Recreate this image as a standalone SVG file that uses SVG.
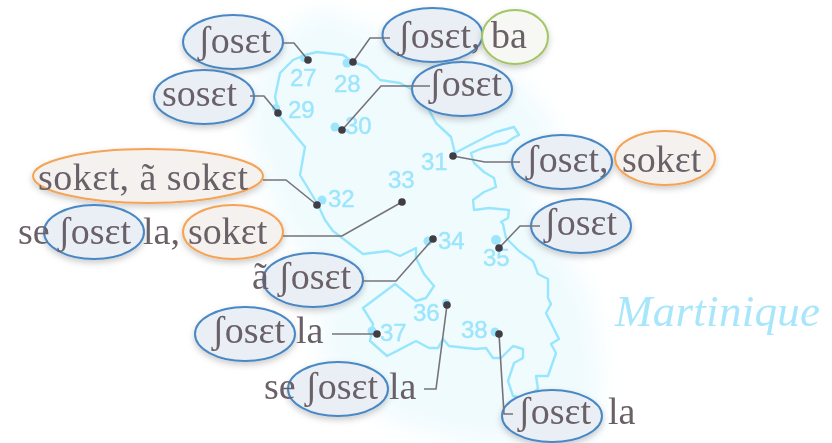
<svg xmlns="http://www.w3.org/2000/svg" width="832" height="443" viewBox="0 0 832 443">
<style>
.t{font-family:"Liberation Serif","DejaVu Serif",serif;font-size:38px;fill:#6b6068}
.n{font-family:"Liberation Sans",Arial,sans-serif;font-size:24px;fill:#9ce5fd;stroke:#9ce5fd;stroke-width:.4}
.b{fill:#e9eff5;stroke:#4a88c4;stroke-width:2}
.o{fill:#f5f1ef;stroke:#f5a355;stroke-width:2}
.g{fill:#f7f8f4;stroke:#a3c566;stroke-width:2}
.l{fill:#9ce5fd}
.d{fill:#3f3d45}
.c{fill:none;stroke:#77737a;stroke-width:1.6}
</style>
<defs>
<filter id="blob" x="-20%" y="-20%" width="140%" height="140%"><feGaussianBlur stdDeviation="12"/></filter>
<filter id="soft" x="0" y="0" width="832" height="443" filterUnits="userSpaceOnUse"><feGaussianBlur stdDeviation="0.55"/></filter>
<filter id="sh" x="-20%" y="-20%" width="140%" height="150%"><feDropShadow dx="0" dy="3" stdDeviation="3" flood-color="#000" flood-opacity="0.2"/></filter>
</defs>
<rect width="832" height="443" fill="#fff"/>
<g id="diagram" filter="url(#soft)">
<g id="map">
<path d="M320 8 L400 40 L520 80 L558 130 L530 190 L590 300 L600 370 L595 443 L470 443 L390 420 L320 360 L325 280 L285 230 L245 130 L262 50Z" fill="#f0fbfe" filter="url(#blob)"/>
<path d="M305 55 L317 52 L343 55 L353 62 L367 67 L380 80 L400 83 L413 90 L416 97 L429 110 L436 123 L451 137 L455 153 L476 142 L496 132 L514 127 L519 135 L513 138 L506 143 L483 148 L471 153 L474 163 L484 172 L494 178 L496 187 L484 192 L473 200 L474 210 L489 208 L509 210 L508 218 L501 222 L503 224 L506 238 L519 251 L533 261 L538 274 L548 279 L548 298 L551 304 L546 313 L559 339 L551 344 L556 353 L548 376 L536 376 L538 389 L526 399 L513 396 L508 381 L514 363 L523 358 L523 349 L513 346 L501 358 L493 358 L486 348 L476 349 L449 346 L443 339 L438 348 L429 348 L416 341 L387 356 L370 341 L373 324 L363 308 L395 284 L416 301 L426 298 L434 286 L424 274 L416 258 L416 248 L400 256 L388 251 L363 254 L333 231 L325 220 L317 203 L300 175 L305 147 L280 117 L275 97 L280 73 L293 60Z" fill="none" stroke="#98e6fd" stroke-width="2.4" stroke-linejoin="round"/>
<g class="l">
<circle cx="304" cy="58" r="4"/><circle cx="347" cy="63" r="4.5"/><circle cx="276" cy="108" r="4"/><circle cx="335" cy="127" r="4.5"/><circle cx="322" cy="200" r="4.5"/><circle cx="428" cy="241" r="4.5"/><circle cx="496" cy="240" r="5"/><circle cx="446" cy="303" r="4"/><circle cx="372" cy="331" r="4.5"/><circle cx="495" cy="332" r="4.5"/>
</g>
<text class="n" x="290" y="86">27</text>
<text class="n" x="334" y="92">28</text>
<text class="n" x="288" y="118">29</text>
<text class="n" x="345" y="134">30</text>
<text class="n" x="421" y="170">31</text>
<text class="n" x="328" y="207">32</text>
<text class="n" x="388" y="188">33</text>
<text class="n" x="438" y="249">34</text>
<text class="n" x="483" y="266">35</text>
<text class="n" x="413" y="321">36</text>
<text class="n" x="380" y="341">37</text>
<text class="n" x="461" y="338">38</text>
<text x="615" y="326" font-family="'Liberation Serif',serif" font-style="italic" font-size="45" fill="#a8e6fb" textLength="205">Martinique</text>
</g>
<g id="n27"><ellipse class="b" cx="233" cy="42" rx="50" ry="27" filter="url(#sh)"/><text class="t" x="198" y="53">ʃosɛt</text></g>
<g id="n28"><ellipse class="b" cx="432.5" cy="35" rx="50" ry="27" filter="url(#sh)"/><text class="t" x="398" y="48">ʃosɛt,</text><ellipse class="g" cx="515" cy="37" rx="33" ry="27" filter="url(#sh)"/><text class="t" x="491" y="48">ba</text></g>
<g id="n29"><ellipse class="b" cx="204" cy="97" rx="50" ry="27" filter="url(#sh)"/><text class="t" x="162" y="106">sosɛt</text></g>
<g id="n30"><ellipse class="b" cx="462" cy="89" rx="50" ry="27" filter="url(#sh)"/><text class="t" x="429" y="96">ʃosɛt</text></g>
<g id="n31"><ellipse class="b" cx="562" cy="162" rx="50" ry="27" filter="url(#sh)"/><text class="t" x="526" y="172">ʃosɛt,</text><ellipse class="o" cx="665" cy="158" rx="50" ry="27" filter="url(#sh)"/><text class="t" x="622" y="172">sokɛt</text></g>
<g id="n32"><ellipse class="o" cx="148" cy="176" rx="115" ry="27" filter="url(#sh)"/><text class="t" x="38" y="190" textLength="210">sokɛt, ã sokɛt</text></g>
<g id="n33"><ellipse class="b" cx="94" cy="232" rx="50" ry="27" filter="url(#sh)"/><ellipse class="o" cx="233" cy="232" rx="50" ry="27" filter="url(#sh)"/><text class="t" x="18" y="244">se</text><text class="t" x="58" y="244">ʃosɛt</text><text class="t" x="143" y="244">la,</text><text class="t" x="188" y="244">sokɛt</text></g>
<g id="n34"><ellipse class="b" cx="313" cy="280" rx="50" ry="27" filter="url(#sh)"/><text class="t" x="252" y="289">ã</text><text class="t" x="278" y="289">ʃosɛt</text></g>
<g id="n35"><ellipse class="b" cx="581" cy="226" rx="50" ry="27" filter="url(#sh)"/><text class="t" x="544" y="235">ʃosɛt</text></g>
<g id="n36"><ellipse class="b" cx="338" cy="389" rx="50" ry="27" filter="url(#sh)"/><text class="t" x="264" y="399">se</text><text class="t" x="305" y="399">ʃosɛt</text><text class="t" x="389" y="399">la</text></g>
<g id="n37"><ellipse class="b" cx="245" cy="334" rx="50" ry="27" filter="url(#sh)"/><text class="t" x="212" y="343">ʃosɛt</text><text class="t" x="296" y="343">la</text></g>
<g id="n38"><ellipse class="b" cx="552" cy="416" rx="50" ry="26" filter="url(#sh)"/><text class="t" x="518" y="424">ʃosɛt</text><text class="t" x="608" y="424">la</text></g>
<g id="connectors">
<path class="c" d="M283 43H294L308 60"/>
<path class="c" d="M390 38H370L353 62"/>
<path class="c" d="M250 96H264L278 113"/>
<path class="c" d="M430 86H381L342 130"/>
<path class="c" d="M453 156L485 162H520"/>
<path class="c" d="M263 180H286L317 205"/>
<path class="c" d="M283 236H342L402 202"/>
<path class="c" d="M362 281H396L433 239"/>
<path class="c" d="M540 226H520L499 248"/>
<path class="c" d="M424 389H436L447 305"/>
<path class="c" d="M332 334H377"/>
<path class="c" d="M499 334L504 414H513"/>
<g class="d">
<circle cx="308" cy="60" r="3.8"/><circle cx="353" cy="62" r="3.8"/><circle cx="278" cy="113" r="3.8"/><circle cx="342" cy="130" r="3.8"/><circle cx="453" cy="156" r="3.8"/><circle cx="317" cy="205" r="3.8"/><circle cx="402" cy="202" r="3.8"/><circle cx="433" cy="239" r="3.8"/><circle cx="499" cy="248" r="3.8"/><circle cx="447" cy="305" r="3.8"/><circle cx="377" cy="334" r="3.8"/><circle cx="499" cy="334" r="3.8"/>
</g>
</g>
</g>
</svg>
